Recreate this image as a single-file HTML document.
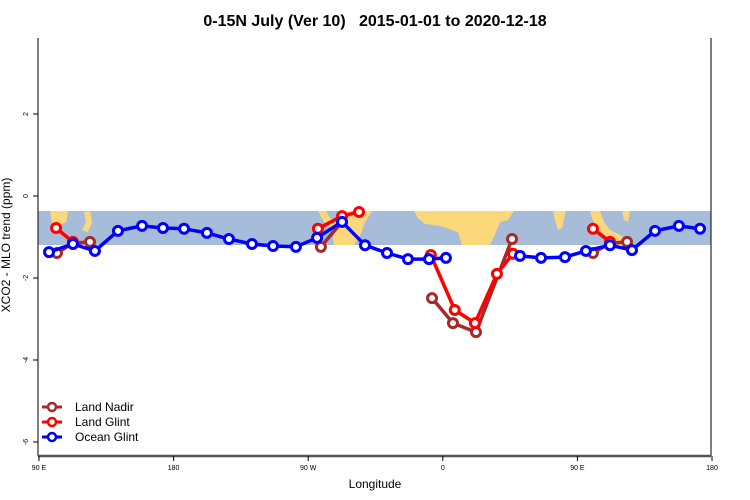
<!DOCTYPE html>
<html><head><meta charset="utf-8">
<style>
body{margin:0;background:#fff;}
svg{display:block;font-family:"Liberation Sans",sans-serif;}
</style></head>
<body>
<svg id="chart" width="750" height="500" xmlns="http://www.w3.org/2000/svg">
<text x="375" y="26" text-anchor="middle" font-size="16" font-weight="bold">0-15N July (Ver 10)&#160;&#160;&#160;2015-01-01 to 2020-12-18</text>
<g id="map">
<rect x="38" y="211" width="673" height="34" fill="#a7bcd9"/>
<g fill="#fdd87a">
<polygon points="50,211 68,211 66,222 60,225 56,232 52,222"/>
<polygon points="84,212 90,211 92,222 88,232 82,230 86,222"/>
<polygon points="318,211 326,211 330,218 336,222 338,216 342,211 372,211 365,222 360,236 354,245 334,245 332,230 324,222"/>
<polygon points="414,211 514,211 508,220 500,222 496,232 490,245 462,245 458,232 440,226 425,224 418,218"/>
<polygon points="553,211 566,211 562,228 558,230 555,220"/>
<polygon points="590,211 600,211 604,222 610,230 622,236 630,245 618,245 606,236 596,228 592,218"/>
<polygon points="622,211 630,211 628,222 624,220"/>
</g>
</g>
<g id="axes"></g>
<g id="series"></g>
<g font-size="12">
<g>
<line x1="42" y1="407" x2="62" y2="407" stroke="#a52a2a" stroke-width="3"/><circle cx="52" cy="407" r="4" fill="#fff" stroke="#a52a2a" stroke-width="2.5"/>
<text x="75" y="411">Land Nadir</text></g>
<g>
<line x1="42" y1="422" x2="62" y2="422" stroke="#ff0000" stroke-width="3"/><circle cx="52" cy="422" r="4" fill="#fff" stroke="#ff0000" stroke-width="2.5"/>
<text x="75" y="426">Land Glint</text></g>
<g>
<line x1="42" y1="437" x2="62" y2="437" stroke="#0000ff" stroke-width="3"/><circle cx="52" cy="437" r="4" fill="#fff" stroke="#0000ff" stroke-width="2.5"/>
<text x="75" y="441">Ocean Glint</text></g>
</g>
</svg>
<script>
// Longitudes expressed in continuous degrees east (90..540), NaN = gap
const xTickValues = [90, 180, 270, 360, 450, 540];
const xTickLabels = ["90 E", "180", "90 W", "0", "90 E", "180"];
const yTickValues = [2, 0, -2, -4, -6];
const yTickLabels = ["2", "0", "-2", "-4", "-6"];

const oceanLon = [96.7,112.7,127.4,142.8,158.9,172.9,187,202.3,217,232.4,246.5,261.8,275.9,292.6,308,322.7,336.7,350.8,362.1,NaN,411.6,425.7,441.7,455.7,471.8,486.5,501.9,517.9,532];
const oceanVal = [-1.37,-1.17,-1.34,-0.85,-0.73,-0.78,-0.80,-0.90,-1.05,-1.17,-1.22,-1.24,-1.02,-0.63,-1.20,-1.39,-1.54,-1.54,-1.51,NaN,-1.46,-1.51,-1.49,-1.34,-1.20,-1.32,-0.85,-0.73,-0.80];
const glintLon = [101.4,112.7,NaN,276.5,292.6,304,NaN,352,368,381.5,396.2,406.9,NaN,460.4,471.8];
const glintVal = [-0.78,-1.12,NaN,-0.80,-0.49,-0.39,NaN,-1.44,-2.78,-3.10,-1.90,-1.41,NaN,-0.80,-1.12];
const nadirLon = [102,112.7,124.1,NaN,278.5,292.6,NaN,352.8,366.8,382.2,406.3,NaN,460.4,471.8,483.2];
const nadirVal = [-1.39,-1.15,-1.12,NaN,-1.24,-0.63,NaN,-2.49,-3.10,-3.32,-1.05,NaN,-1.39,-1.15,-1.12];

const L=38,R=711,T=38,B=456;
function xs(lon){return 39+(lon-90)*(673/450);}
function ys(v){return 196-v*41;}
const NS="http://www.w3.org/2000/svg";
function mk(tag,attrs,parent){const e=document.createElementNS(NS,tag);for(const k in attrs)e.setAttribute(k,attrs[k]);parent.appendChild(e);return e;}
const axes=document.getElementById('axes');
const b1=mk('line',{x1:L,y1:T,x2:L,y2:B,stroke:'#000','stroke-width':1},axes);


const b2=mk('line',{x1:R,y1:T,x2:R,y2:B,stroke:'#000','stroke-width':1},axes);


const b3=mk('line',{x1:L,y1:B,x2:R,y2:B,stroke:'#555','stroke-width':2.5},axes);


xTickValues.forEach((v,i)=>{
  const x=xs(v);
  const t=mk('line',{x1:x,y1:B,x2:x,y2:B+5,stroke:'#000'},axes);
  
  
  const l=mk('text',{x:x,y:B+14,'text-anchor':'middle','font-size':7},axes);
  l.textContent=xTickLabels[i];
  
  
});
yTickValues.forEach((v,i)=>{
  const y=ys(v);
  const t=mk('line',{x1:L-5,y1:y,x2:L,y2:y,stroke:'#000'},axes);
  
  
  const l=mk('text',{x:28,y:y,'text-anchor':'middle','font-size':7,transform:`rotate(-90 28 ${y})`},axes);
  l.textContent=yTickLabels[i];
  
  
});
const xt=mk('text',{x:375,y:488,'text-anchor':'middle','font-size':12},axes);
xt.textContent='Longitude';


const yt=mk('text',{x:10,y:245,'text-anchor':'middle','font-size':12,transform:'rotate(-90 10 245)'},axes);
yt.textContent='XCO2 - MLO trend (ppm)';



const series=document.getElementById('series');
function draw(lons,vals,color,name){
  const g=mk('g',{},series);
  
  
  let d='',pen=false;
  lons.forEach((lon,i)=>{
    if(isNaN(lon)||isNaN(vals[i])){pen=false;return;}
    d+=(pen?'L':'M')+xs(lon).toFixed(1)+' '+ys(vals[i]).toFixed(1)+' ';pen=true;
  });
  const p=mk('path',{d:d,fill:'none',stroke:color,'stroke-width':3.5,'stroke-linejoin':'round'},g);
  
  
  lons.forEach((lon,i)=>{
    if(isNaN(lon)||isNaN(vals[i]))return;
    const c=mk('circle',{cx:xs(lon),cy:ys(vals[i]),r:4.5,fill:'#fff',stroke:color,'stroke-width':3},g);
    
    
  });
}
draw(nadirLon,nadirVal,'#a52a2a','land-nadir-series');
draw(glintLon,glintVal,'#ff0000','land-glint-series');
draw(oceanLon,oceanVal,'#0000ff','ocean-glint-series');
</script>
</body></html>
